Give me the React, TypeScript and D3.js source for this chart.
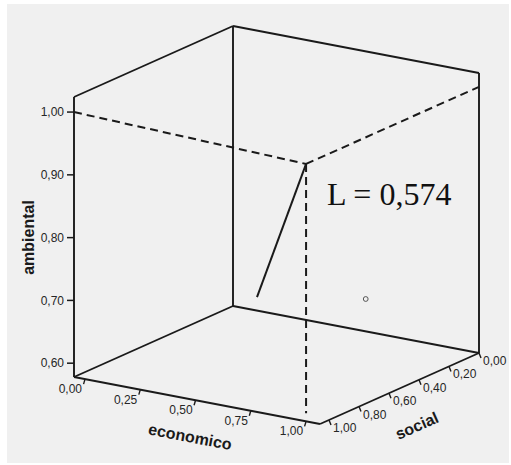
import React from "react";
import * as d3 from "d3";

// Axis domains (with SPSS padding)
const econDomain = [-0.05, 1.063];
const socialDomain = [0, 1.06];
const ambDomain = [0.578, 1.024];

// Tick values and labels
const ambTicks = [0.6, 0.7, 0.8, 0.9, 1.0];
const econTicks = [0, 0.25, 0.5, 0.75, 1.0];
const socialTicks = [0, 0.2, 0.4, 0.6, 0.8, 1.0];

// Data point (economico, social, ambiental)
const points = [[0.9, 0.515, 0.708]];

// Annotation (hand-drawn) geometry in data space
const annoCorner = [1.0, 1.06, 0.988];
const annoLeft = [-0.05, 1.06, 1.0];
const annoRight = [1.063, 0, 1.002];
const annoFloor = [1.0, 1.06, 0.591];
const annoSolidEnd = [0.778, 1.06, 0.761];
const annoLabel = "L = 0,574";

const W = 511;
const H = 465;

const fmt = (v: number) => v.toFixed(2).replace(".", ",");

export default function App() {
  // projection: base = (econMin, socialMin, ambMin) back-bottom corner
  const base = [233, 306];
  const E = [246, 47];
  const S = [-159, 71];
  const A = [0, -280];
  const fe = d3.scaleLinear().domain(econDomain).range([0, 1]);
  const fs = d3.scaleLinear().domain(socialDomain).range([0, 1]);
  const fa = d3.scaleLinear().domain(ambDomain).range([0, 1]);
  const proj = (e: number, s: number, a: number): [number, number] => {
    const u = fe(e), v = fs(s), w = fa(a);
    return [base[0] + u * E[0] + v * S[0] + w * A[0], base[1] + u * E[1] + v * S[1] + w * A[1]];
  };
  const [e0, e1] = econDomain;
  const [s0, s1] = socialDomain;
  const [a0, a1] = ambDomain;

  const seg = (p: [number, number], q: [number, number], key: string, extra: any = {}) => (
    <line key={key} x1={p[0]} y1={p[1]} x2={q[0]} y2={q[1]} stroke="#1a1a1a" strokeWidth={1.9} {...extra} />
  );

  const edges: [number[], number[]][] = [
    [[e0, s1, a0], [e0, s1, a1]],
    [[e0, s0, a0], [e0, s0, a1]],
    [[e1, s0, a0], [e1, s0, a1]],
    [[e0, s1, a1], [e0, s0, a1]],
    [[e0, s0, a1], [e1, s0, a1]],
    [[e0, s1, a0], [e0, s0, a0]],
    [[e0, s0, a0], [e1, s0, a0]],
    [[e0, s1, a0], [e1, s1, a0]],
    [[e1, s1, a0], [e1, s0, a0]],
  ];

  const econAngle = (Math.atan2(E[1], E[0]) * 180) / Math.PI;
  const socialAngle = (Math.atan2(-S[1], -S[0]) * 180) / Math.PI;

  const P = (c: number[]) => proj(c[0], c[1], c[2]);
  const tickFont = { fontFamily: "'Liberation Sans', Arial, sans-serif", fontSize: 12, fill: "#262626" };
  const titleFont = { fontFamily: "'Liberation Sans', Arial, sans-serif", fontSize: 16, fontWeight: 700, fill: "#1a1a1a" };

  return (
    <svg width={W} height={H} style={{ position: "absolute", left: 0, top: 0 }}>
      <rect x={0} y={0} width={W} height={H} fill="#ffffff" />
      <rect x={7} y={4} width={502} height={459} fill="#f0f0f0" />
      {edges.map((ed, i) => seg(P(ed[0]), P(ed[1]), "e" + i))}

      {ambTicks.map((t, i) => {
        const p = proj(e0, s1, t);
        return (
          <g key={"a" + i}>
            <line x1={p[0] - 7} y1={p[1]} x2={p[0]} y2={p[1]} stroke="#1a1a1a" strokeWidth={1.5} />
            <text x={p[0] - 10} y={p[1]} dy="0.35em" textAnchor="end" {...tickFont}>{fmt(t)}</text>
          </g>
        );
      })}
      {econTicks.map((t, i) => {
        const p = proj(t, s1, a0);
        return (
          <g key={"ec" + i}>
            <line x1={p[0]} y1={p[1]} x2={p[0] - 1.5} y2={p[1] + 5} stroke="#1a1a1a" strokeWidth={1.4} />
            <text x={p[0] - 3} y={p[1] + 14} textAnchor="end" {...tickFont}>{fmt(t)}</text>
          </g>
        );
      })}
      {socialTicks.map((t, i) => {
        const p = proj(e1, t, a0);
        return (
          <g key={"so" + i}>
            <line x1={p[0]} y1={p[1]} x2={p[0] + 2} y2={p[1] + 5} stroke="#1a1a1a" strokeWidth={1.4} />
            <text x={p[0] + 4} y={p[1] + 12} textAnchor="start" {...tickFont}>{fmt(t)}</text>
          </g>
        );
      })}

      <text transform="translate(34,237.5) rotate(-90)" textAnchor="middle" {...titleFont}>ambiental</text>
      <text transform={`translate(190,437.5) rotate(${econAngle})`} dy="0.3em" textAnchor="middle" {...titleFont}>economico</text>
      <text transform={`translate(417,426) rotate(${socialAngle})`} dy="0.33em" textAnchor="middle" {...titleFont}>social</text>

      {seg(P(annoLeft), P(annoCorner), "d1", { strokeDasharray: "8,5", strokeWidth: 2 })}
      {seg(P(annoCorner), P(annoRight), "d2", { strokeDasharray: "8,5", strokeWidth: 2 })}
      {seg(P(annoCorner), P(annoFloor), "d3", { strokeDasharray: "8,5", strokeWidth: 2 })}
      {seg(P(annoCorner), P(annoSolidEnd), "s1", { strokeWidth: 2 })}

      {points.map((d, i) => {
        const p = proj(d[0], d[1], d[2]);
        return <circle key={"p" + i} cx={p[0]} cy={p[1]} r={2.4} fill="none" stroke="#555" strokeWidth={1} />;
      })}

      <text x={327} y={205} fontFamily="'Liberation Serif', 'Times New Roman', serif" fontSize={32} fill="#111">{annoLabel}</text>
    </svg>
  );
}
